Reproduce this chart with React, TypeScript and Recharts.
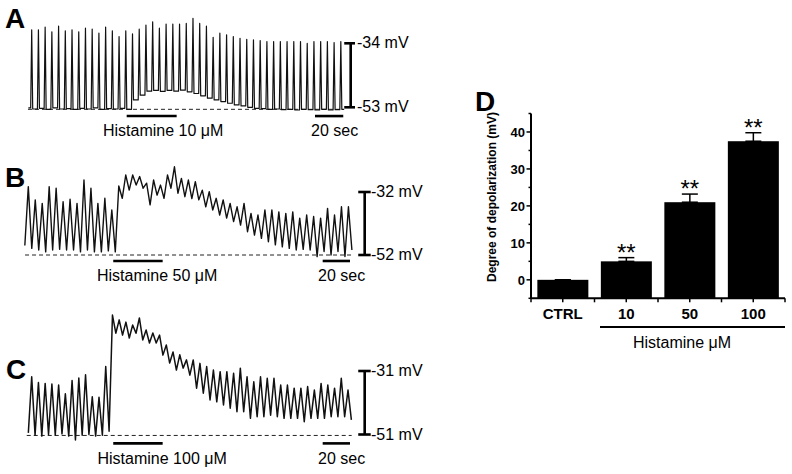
import React from 'react';
import {
  LineChart,
  Line,
  XAxis,
  YAxis,
  ReferenceLine,
  BarChart,
  Bar,
  ErrorBar,
  ReferenceDot,
} from 'recharts';

const FONT = '"Liberation Sans", Arial, Helvetica, sans-serif';

// A: histamine 10 µM – spike peaks and the trough before each spike (+ final trough), mV
const aPeaks = [
  -30.0, -30.0, -29.2, -30.6, -28.9, -30.3, -30.0, -30.6, -29.5, -29.8,
  -31.0, -29.2, -30.3, -32.0, -30.3, -31.2, -29.8, -28.6, -27.6, -29.5,
  -28.3, -28.3, -28.3, -28.1, -26.6, -28.1, -28.9, -32.2, -31.0, -31.5,
  -32.0, -32.5, -32.8, -33.0, -33.2, -33.5, -33.5, -33.5, -33.5, -33.5,
  -33.5, -34.0, -33.5, -33.5, -33.5, -33.8, -33.5,
];
const aTroughs = [
  -53.2, -53.5, -53.3, -53.6, -53.2, -53.5, -53.4, -53.6, -53.3, -53.5,
  -53.2, -53.6, -53.4, -53.5, -53.3, -53.6, -50.8, -49.4, -48.2, -48.0,
  -48.3, -48.0, -48.2, -47.9, -48.4, -48.9, -49.6, -50.3, -50.8, -51.3,
  -51.8, -52.3, -52.6, -53.0, -53.3, -53.4, -53.6, -53.5, -53.7, -53.6,
  -53.8, -53.6, -53.7, -53.8, -53.6, -53.8, -53.7, -53.6,
];

// B: histamine 50 µM
const bPeaks = [
  -30.3, -34.5, -35.6, -30.3, -30.8, -35.1, -34.3, -35.6, -28.2, -30.8,
  -35.6, -34.0, -37.7, -30.1, -26.6, -26.6, -27.1, -29.2, -28.2, -29.8,
  -26.6, -24.0, -27.7, -28.2, -28.7, -31.4, -31.9, -34.0, -34.5, -35.6,
  -36.7, -35.6, -38.8, -39.3, -37.7, -37.7, -38.3, -38.8, -38.3, -40.3,
  -39.3, -39.8, -40.3, -37.2, -39.3, -36.7, -36.7,
];
const bTroughs = [
  -49.0, -49.9, -50.4, -51.0, -50.4, -50.2, -50.4, -50.4, -51.0, -50.4,
  -51.0, -51.0, -50.7, -51.0, -34.0, -31.4, -29.8, -30.8, -36.1, -33.0,
  -34.0, -30.8, -32.4, -33.5, -34.1, -34.5, -36.7, -37.7, -39.3, -40.3,
  -41.4, -42.5, -44.6, -45.7, -46.7, -47.8, -48.8, -49.4, -49.9, -50.4,
  -50.2, -50.4, -52.5, -50.9, -52.0, -50.9, -52.5, -50.4,
];

// C: histamine 100 µM
const cPeaks = [
  -32.8, -34.6, -34.9, -35.1, -35.4, -38.2, -34.0, -33.2, -32.2, -39.1,
  -39.3, -29.6, -13.4, -14.9, -15.6, -16.5, -14.3, -18.1, -19.0, -19.7,
  -22.8, -25.0, -25.9, -27.5, -27.5, -28.6, -29.6, -30.7, -31.2, -31.2,
  -31.7, -30.1, -32.8, -34.4, -32.8, -33.3, -33.3, -35.4, -35.4, -36.4,
  -36.4, -35.9, -37.0, -34.9, -35.4, -36.4, -33.3, -37.0,
];
const cTroughs = [
  -50.5, -51.2, -51.5, -51.0, -51.2, -50.8, -51.5, -52.7, -51.2, -51.0,
  -51.5, -51.2, -50.0, -19.1, -19.7, -20.6, -19.1, -21.2, -22.2, -22.2,
  -26.0, -28.5, -30.7, -30.1, -32.3, -36.4, -38.0, -40.1, -40.7, -41.7,
  -42.7, -43.8, -43.8, -45.9, -45.4, -45.4, -44.9, -45.4, -45.9, -45.9,
  -45.9, -47.0, -45.9, -45.9, -45.9, -45.4, -45.4, -45.4, -46.4,
];

// D: degree of depolarization
const dCategories = ['CTRL', '10', '50', '100'];
const dValues = [0, 5.0, 21.0, 37.5];
const dErrors = [0, 1.0, 2.2, 2.3];
const dSig = ['', '**', '**', '**'];
const dTicks = [-5, 0, 5, 10, 15, 20, 25, 30, 35, 40, 45];

const PX_PER_SEC = 1.4;
const TRACE_LEFT = 20;
const TRACE_W = 360;

type Pt = { t: number; v: number };

// narrow spikes: short rise from the trough, back down to the next trough
function spikeSeries(peaks: number[], troughs: number[], t0: number, period: number) {
  const w = period * 0.15;
  const pts: Pt[] = [{ t: t0 - period / 2, v: troughs[0] }];
  peaks.forEach((p, i) => {
    const t = t0 + i * period;
    pts.push({ t: t - w, v: troughs[i] }, { t, v: p }, { t: t + w, v: troughs[i + 1] });
  });
  pts.push({ t: t0 + (peaks.length - 1) * period + period / 2, v: troughs[peaks.length] });
  return pts;
}

// slow waves: trough halfway between two peaks
function waveSeries(peaks: number[], troughs: number[], t0: number, period: number) {
  const pts: Pt[] = [];
  peaks.forEach((p, i) => {
    const t = t0 + i * period;
    pts.push({ t: t - period / 2, v: troughs[i] }, { t, v: p });
  });
  pts.push({ t: t0 + (peaks.length - 1) * period + period / 2, v: troughs[peaks.length] });
  return pts;
}

const panels = [
  {
    id: 'A', drug: 'Histamine 10 μM', spiky: true, peaks: aPeaks, troughs: aTroughs,
    t0: 8.36, period: 4.8, top: 0, height: 140, stroke: 1.2,
    cal: { yHigh: 43.3, mvHigh: -34, yLow: 107.3, mvLow: -53 },
    baseline: -53.6, dash: [5.7, 230.7], drugT: [76.2, 111.9], markV: -55.6,
    secT: [210.7, 230.9], scaleT: 236.2, capT: [231.6, 239.3],
    letter: { x: 5, y: 18.5 }, mvX: 357, labelY: 131, drugX: 103, secX: 311,
  },
  {
    id: 'B', drug: 'Histamine 50 μM', spiky: false, peaks: bPeaks, troughs: bTroughs,
    t0: 5.93, period: 4.971, top: 140, height: 145, stroke: 1.4,
    cal: { yHigh: 192, mvHigh: -32, yLow: 255, mvLow: -52 },
    baseline: -52.0, dash: [3.6, 237.9], drugT: [66.6, 101.9], markV: -53.9,
    secT: [216.2, 235.7], scaleT: 246.2, capT: [241.6, 250.5],
    letter: { x: 5, y: 177.5 }, mvX: 371, labelY: 276, drugX: 97, secX: 318,
  },
  {
    id: 'C', drug: 'Histamine 100 μM', spiky: false, peaks: cPeaks, troughs: cTroughs,
    t0: 8.36, period: 4.807, top: 290, height: 160, stroke: 1.5,
    cal: { yHigh: 371, mvHigh: -31, yLow: 434.5, mvLow: -51 },
    baseline: -51.3, dash: [4.8, 236.9], drugT: [66.6, 101.9], markV: -53.8,
    secT: [216.2, 235.7], scaleT: 246.2, capT: [241.6, 250.5],
    letter: { x: 6, y: 370 }, mvX: 371, labelY: 458.5, drugX: 97.5, secX: 318,
  },
];

const Txt = ({ x, y, size, bold, children }: any) => (
  <div
    style={{
      position: 'absolute', left: x, top: y, fontSize: size, fontWeight: bold ? 700 : 400,
      lineHeight: 1, whiteSpace: 'nowrap', transform: 'translateY(-50%)',
    }}
  >
    {children}
  </div>
);

const Trace = ({ p }: any) => {
  const { cal, top, height } = p;
  const pxPerMv = (cal.yLow - cal.yHigh) / (cal.mvHigh - cal.mvLow);
  const vMax = cal.mvHigh + (cal.yHigh - top) / pxPerMv;
  const vMin = cal.mvLow - (top + height - cal.yLow) / pxPerMv;
  const data = p.spiky
    ? spikeSeries(p.peaks, p.troughs, p.t0, p.period)
    : waveSeries(p.peaks, p.troughs, p.t0, p.period);
  const bar = { stroke: '#000', strokeWidth: 2.6 };

  return (
    <>
      <div style={{ position: 'absolute', left: TRACE_LEFT, top }}>
        <LineChart width={TRACE_W} height={height} data={data} margin={{ top: 0, right: 0, bottom: 0, left: 0 }}>
          <XAxis type="number" dataKey="t" domain={[0, TRACE_W / PX_PER_SEC]} hide allowDataOverflow />
          <YAxis type="number" domain={[vMin, vMax]} hide allowDataOverflow />
          <ReferenceLine
            segment={[{ x: p.dash[0], y: p.baseline }, { x: p.dash[1], y: p.baseline }]}
            stroke="#222" strokeWidth={1} strokeDasharray="4 3"
          />
          <ReferenceLine segment={[{ x: p.drugT[0], y: p.markV }, { x: p.drugT[1], y: p.markV }]} {...bar} />
          <ReferenceLine segment={[{ x: p.secT[0], y: p.markV }, { x: p.secT[1], y: p.markV }]} {...bar} />
          <ReferenceLine segment={[{ x: p.scaleT, y: cal.mvLow }, { x: p.scaleT, y: cal.mvHigh }]} {...bar} />
          <ReferenceLine segment={[{ x: p.capT[0], y: cal.mvHigh }, { x: p.capT[1], y: cal.mvHigh }]} {...bar} />
          <ReferenceLine segment={[{ x: p.capT[0], y: cal.mvLow }, { x: p.capT[1], y: cal.mvLow }]} {...bar} />
          <Line
            type="linear" dataKey="v" stroke="#111" strokeWidth={p.stroke}
            dot={false} isAnimationActive={false} strokeLinejoin="round"
          />
        </LineChart>
      </div>
      <Txt x={p.letter.x} y={p.letter.y} size={28} bold>{p.id}</Txt>
      <Txt x={p.mvX} y={cal.yHigh} size={16}>{`${cal.mvHigh} mV`}</Txt>
      <Txt x={p.mvX} y={cal.yLow} size={16}>{`${cal.mvLow} mV`}</Txt>
      <Txt x={p.drugX} y={p.labelY} size={16}>{p.drug}</Txt>
      <Txt x={p.secX} y={p.labelY} size={16}>20 sec</Txt>
    </>
  );
};

const D_W = 322;
const D_H = 240;
const D_MARGIN = { top: 23.5, right: 7, bottom: 1.7, left: 1 };
const D_XAXIS_H = 30;
const D_PLOT_BOTTOM = D_H - D_MARGIN.bottom - D_XAXIS_H;
const D_PLOT_W = D_W - D_MARGIN.left - D_MARGIN.right - 60;
const HALF_BAND = D_PLOT_W / dCategories.length / 2;

const YTick = ({ x, y, payload }: any) => {
  const v = payload.value;
  const ax = x + 6;
  const major = v % 10 === 0;
  return (
    <g>
      <line x1={ax} x2={ax - (major ? 4.5 : 2.5)} y1={y} y2={y} stroke="#000" strokeWidth={1.5} />
      {major && v >= 0 && (
        <text x={ax - 6} y={y} dy="0.36em" textAnchor="end" fontSize={13} fontWeight="bold" fontFamily={FONT} fill="#000">
          {v}
        </text>
      )}
    </g>
  );
};

const XTick = ({ x, y, payload, index }: any) => {
  const ay = y - 10;
  const tick = (tx: number) => <line x1={tx} x2={tx} y1={ay} y2={ay + 4} stroke="#000" strokeWidth={1.5} />;
  return (
    <g>
      {tick(x)}
      {tick(x - HALF_BAND)}
      {index === dCategories.length - 1 && tick(x + HALF_BAND)}
      <text x={x} y={y} dy="0.71em" textAnchor="middle" fontSize={15} fontWeight="bold" fontFamily={FONT} fill="#000">
        {payload.value}
      </text>
    </g>
  );
};

// bars are drawn down to the bottom of the axis, as in the original
const FloorBar = (props: any) => {
  const { x, y, width } = props;
  return <rect x={x} y={y} width={width} height={Math.max(0, D_PLOT_BOTTOM - y)} fill="#000" />;
};

const DepolChart = () => {
  const data = dCategories.map((c, i) => ({ name: c, value: dValues[i], err: [0, dErrors[i]] }));
  return (
    <>
      <div style={{ position: 'absolute', left: 470, top: 90 }}>
        <BarChart width={D_W} height={D_H} data={data} barCategoryGap="10%" margin={D_MARGIN}>
          <XAxis
            dataKey="name" height={D_XAXIS_H} interval={0} tickSize={4} tickMargin={6}
            axisLine={{ stroke: '#000', strokeWidth: 2 }} tickLine={false}
            tick={(props: any) => <XTick {...props} />}
          />
          <YAxis
            type="number" width={60} domain={[-5, 45]} ticks={dTicks} interval={0}
            tickSize={4} tickMargin={2} axisLine={{ stroke: '#000', strokeWidth: 2 }} tickLine={false}
            tick={(props: any) => <YTick {...props} />}
          />
          <Bar dataKey="value" isAnimationActive={false} shape={(props: any) => <FloorBar {...props} />}>
            <ErrorBar dataKey="err" width={8} strokeWidth={1.5} stroke="#000" direction="y" />
          </Bar>
          {dCategories.map((c, i) =>
            dSig[i] ? (
              <ReferenceDot
                key={c} x={c} y={dValues[i] + dErrors[i]} r={0} fill="none" stroke="none"
                label={{ value: dSig[i], position: 'top', offset: -3, fontSize: 24, fill: '#000', fontFamily: FONT }}
              />
            ) : null
          )}
        </BarChart>
      </div>
      <Txt x={475} y={102} size={28} bold>D</Txt>
      <div
        style={{
          position: 'absolute', left: 491.7, top: 196.5, fontSize: 12, fontWeight: 700,
          lineHeight: 1, whiteSpace: 'nowrap', transform: 'translate(-50%, -50%) rotate(-90deg)',
        }}
      >
        Degree of depolarization (mV)
      </div>
      <div style={{ position: 'absolute', left: 600, top: 326.3, width: 185, height: 2, background: '#000' }} />
      <Txt x={633} y={342.5} size={16}>Histamine μM</Txt>
    </>
  );
};

export default function App() {
  return (
    <div
      style={{
        position: 'absolute', left: 0, top: 0, width: 792, height: 474, background: '#fff',
        fontFamily: FONT, color: '#000', overflow: 'hidden',
      }}
    >
      {panels.map((p) => (
        <Trace key={p.id} p={p} />
      ))}
      <DepolChart />
    </div>
  );
}
